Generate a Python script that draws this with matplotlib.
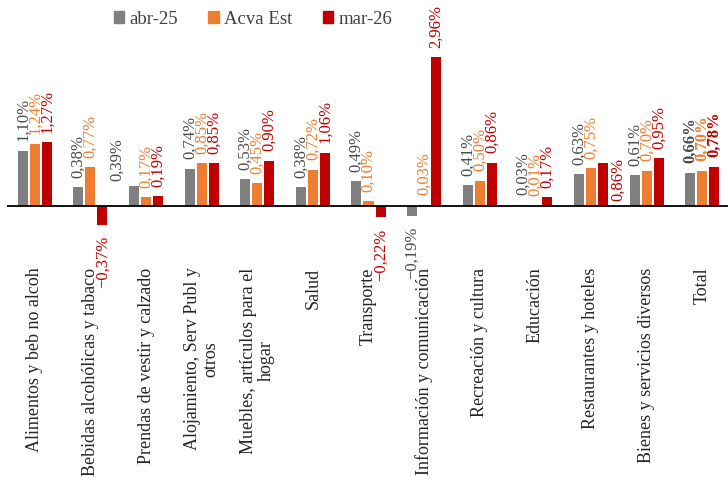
import matplotlib.pyplot as plt
import numpy as np
from matplotlib.patches import Patch

categories = [
    "Alimentos y beb no alcoh",
    "Bebidas alcohólicas y tabaco",
    "Prendas de vestir y calzado",
    "Alojamiento, Serv Publ y\notros",
    "Muebles, artículos para el\nhogar",
    "Salud",
    "Transporte",
    "Información y comunicación",
    "Recreación y cultura",
    "Educación",
    "Restaurantes y hoteles",
    "Bienes y servicios diversos",
    "Total",
]
series_names = ["abr-25", "Acva Est", "mar-26"]
abr25 = [1.10, 0.38, 0.39, 0.74, 0.53, 0.38, 0.49, -0.19, 0.41, 0.03, 0.63, 0.61, 0.66]
acva_est = [1.24, 0.77, 0.17, 0.85, 0.45, 0.72, 0.10, 0.03, 0.50, 0.01, 0.75, 0.70, 0.70]
mar26 = [1.27, -0.37, 0.19, 0.85, 0.90, 1.06, -0.22, 2.96, 0.86, 0.17, 0.86, 0.95, 0.78]

bar_colors = ["#7f7f7f", "#ed7d31", "#c00000"]
label_colors = ["#4a4a4a", "#ed7d31", "#c00000"]

# labels that were dragged by hand in the original: (series, category) -> (dx, dy) points
moved = {
    (0, 2): (-12, -3),
    (2, 10): (11, -34),
}

plt.rcParams['font.family'] = ['Liberation Serif', 'DejaVu Serif']

fig = plt.figure(figsize=(7.28, 4.81), dpi=100)
ax = fig.add_axes([7 / 728, 1 - 262 / 481, 723 / 728, 232 / 481])

x = np.arange(len(categories))
step = 0.216
width = 0.18
all_series = [abr25, acva_est, mar26]
for s, vals in enumerate(all_series):
    xs = x + (s - 1) * step
    ax.bar(xs, vals, width=width, color=bar_colors[s], zorder=2)
    for i, (xi, v) in enumerate(zip(xs, vals)):
        dx, dy = moved.get((s, i), (0, 0))
        off = 7.5 if v >= 0 else -7.5
        txt = f"{v:.2f}%".replace(".", ",").replace("-", "\u2212")
        ax.annotate(txt, (xi, v), xytext=(dx, off + dy), textcoords="offset points",
                    rotation=90, ha="center", va="bottom" if v >= 0 else "top",
                    fontsize=12, color=label_colors[s],
                    fontweight="bold" if i == len(categories) - 1 else "normal")

ax.axhline(0, color="black", lw=1.3, zorder=3)
ax.set_xlim(-0.5, 12.5)
ax.set_ylim(-1.093, 3.52)
ax.set_xticks(x)
ax.set_xticklabels(categories, rotation=90, fontsize=13, color="#262626",
                   linespacing=1.05, multialignment="center")
ax.tick_params(axis="x", length=0, pad=4)
ax.set_yticks([])
for sp in ax.spines.values():
    sp.set_visible(False)

handles = [Patch(color=c) for c in bar_colors]
fig.legend(handles, series_names, loc="center", bbox_to_anchor=(253 / 728, 1 - 20 / 481),
           ncol=3, frameon=False, fontsize=13.5, handlelength=0.55, handleheight=0.55,
           handletextpad=0.3, columnspacing=1.6, labelcolor="#404040")

fig.savefig("out.png", dpi=100)
